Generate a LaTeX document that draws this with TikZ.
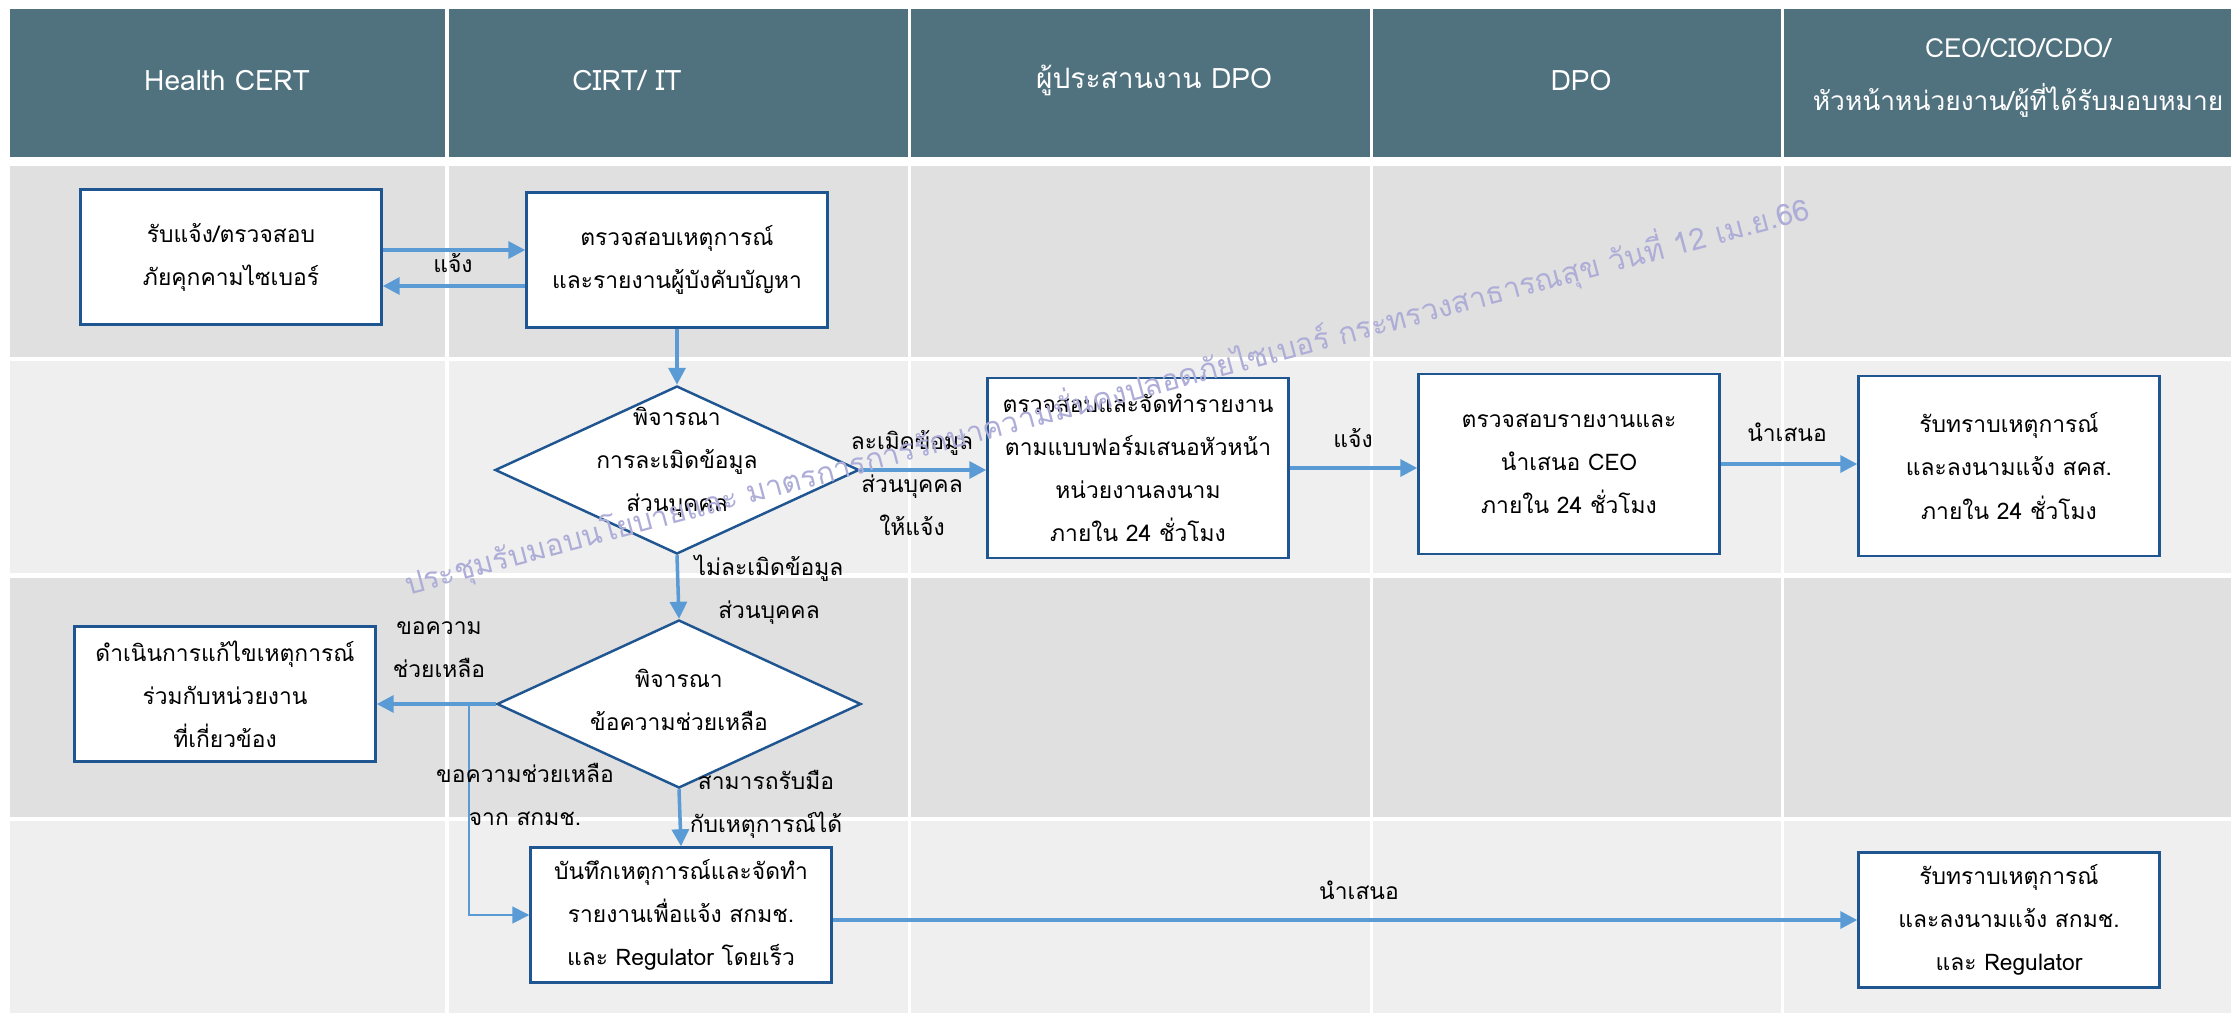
\documentclass[tikz,border=0pt]{standalone}
\usepackage{fontspec}
\setmainfont{Loma}[Script=Thai]
\usetikzlibrary{arrows.meta,shapes.geometric,calc}
\definecolor{headfill}{HTML}{50717E}
\definecolor{rowdark}{HTML}{E0E0E0}
\definecolor{rowlight}{HTML}{EFEFEF}
\definecolor{boxblue}{HTML}{1F5591}
\definecolor{flowblue}{HTML}{5B9BD5}
\definecolor{wmcolor}{HTML}{ADADD8}
\newcommand{\bodyfont}{\fontsize{13pt}{24.5pt}\selectfont}
\newcommand{\headfont}{\fontsize{16pt}{30pt}\selectfont}
\newcommand{\wmfont}{\fontsize{17pt}{20pt}\selectfont}
\tikzset{
  stepbox/.style={draw=boxblue, fill=white, line width=1.4pt, minimum width=60.2mm,
    minimum height=27mm, align=center, font=\bodyfont, inner sep=0pt},
  tallbox/.style={stepbox, minimum height=36mm},
  decide/.style={diamond, draw=boxblue, fill=white, line width=1.4pt,
    minimum width=72.8mm, minimum height=33.6mm, inner sep=0pt},
  flow/.style={draw=flowblue, line width=2pt, -{Triangle[length=3.4mm,width=3.4mm]}},
  thinflow/.style={draw=flowblue, line width=1pt, -{Triangle[length=3.4mm,width=3.4mm]}},
  lab/.style={font=\bodyfont, align=center, inner sep=0pt},
  headtxt/.style={text=white, font=\headfont, align=center, inner sep=0pt},
  wmark/.style={text=wmcolor, font=\wmfont, inner sep=0pt},
}
\begin{document}
\begin{tikzpicture}[x=0.2mm, y=-0.2mm]
  \clip (0,0) rectangle (2231,1013);
  \fill[white] (0,0) rectangle (2231,1013);
  % swimlane table
  \foreach \xa/\xb in {10/445, 449/908, 911/1370, 1373/1781, 1784/2240} {
    \fill[headfill] (\xa,9) rectangle (\xb,157);
    \fill[rowdark] (\xa,166) rectangle (\xb,357);
    \fill[rowlight] (\xa,361) rectangle (\xb,573);
    \fill[rowdark] (\xa,578) rectangle (\xb,817);
    \fill[rowlight] (\xa,821) rectangle (\xb,1020);
  }
  \node[headtxt] (h1) at (227,80) {Health CERT};
  \node[headtxt] (h2) at (627,80) {CIRT/ IT};
  \node[headtxt] (h3) at (1154,80) {ผู้ประสานงาน DPO};
  \node[headtxt] (h4) at (1581,80) {DPO};
  \node[headtxt, font=\fontsize{15pt}{30pt}\selectfont] (h5) at (2018,78) {CEO/CIO/CDO/\\หัวหน้าหน่วยงาน/ผู้ที่ได้รับมอบหมาย};

  % steps
  \node[stepbox] (A) at (231,257) {รับแจ้ง/ตรวจสอบ\\ภัยคุกคามไซเบอร์};
  \node[stepbox] (B) at (677,260) {ตรวจสอบเหตุการณ์\\และรายงานผู้บังคับบัญหา};
  \node[decide] (d1) at (677,470) {};
  \node[lab] (d1t) at (677,462) {พิจารณา\\การละเมิดข้อมูล\\ส่วนบุคคล};
  \node[tallbox] (C) at (1138,468) {ตรวจสอบและจัดทำรายงาน\\ตามแบบฟอร์มเสนอหัวหน้า\\หน่วยงานลงนาม\\ภายใน 24 ชั่วโมง};
  \node[tallbox] (D) at (1569,464) {ตรวจสอบรายงานและ\\นำเสนอ CEO\\ภายใน 24 ชั่วโมง};
  \node[tallbox] (E) at (2009,466) {รับทราบเหตุการณ์\\และลงนามแจ้ง สคส.\\ภายใน 24 ชั่วโมง};
  \node[decide] (d2) at (679,704) {};
  \node[lab] (d2t) at (679,700) {พิจารณา\\ข้อความช่วยเหลือ};
  \node[stepbox] (F) at (225,694) {ดำเนินการแก้ไขเหตุการณ์\\ร่วมกับหน่วยงาน\\ที่เกี่ยวข้อง};
  \node[stepbox] (G) at (681,915) {บันทึกเหตุการณ์และจัดทำ\\รายงานเพื่อแจ้ง สกมช.\\และ Regulator โดยเร็ว};
  \node[stepbox] (H) at (2009,920) {รับทราบเหตุการณ์\\และลงนามแจ้ง สกมช.\\และ Regulator};

  % connectors
  \draw[flow] (A.east |- 0,250) -- (B.west |- 0,250);
  \draw[flow] (B.west |- 0,286) -- (A.east |- 0,286);
  \draw[flow] (B.south) -- (d1.north);
  \draw[flow] (d1.east) -- (d1.east -| C.west);
  \draw[flow] (C.east) -- (C.east -| D.west);
  \draw[flow] (D.east) -- (D.east -| E.west);
  \draw[flow] (d1.south) -- (d2.north);
  \draw[flow] (d2.west) -- (d2.west -| F.east);
  \draw[thinflow] (d2.west -| 469,0) |- (G.west);
  \draw[flow] (d2.south) -- (G.north);
  \draw[flow] (G.east |- H.west) -- (H.west);

  % connector labels
  \node[lab] (l1) at (453,263) {แจ้ง};
  \node[lab] (l2) at (912,483) {ละเมิดข้อมูล\\ส่วนบุคคล\\ให้แจ้ง};
  \node[lab] (l3) at (1353,438) {แจ้ง};
  \node[lab] (l4) at (1787,432) {นำเสนอ};
  \node[lab] (l5) at (769,590) {ไม่ละเมิดข้อมูล\\ส่วนบุคคล};
  \node[lab] (l6) at (439,650) {ขอความ\\ช่วยเหลือ};
  \node[lab] (l7) at (525,794) {ขอความช่วยเหลือ\\จาก สกมช.};
  \node[lab] (l8) at (766,804) {สามารถรับมือ\\กับเหตุการณ์ได้};
  \node[lab] (l9) at (1359,890) {นำเสนอ};

  % watermark
  \node[wmark, rotate=15] (wm) at (1107,396) {ประชุมรับมอบนโยบายและ มาตรการการรักษาความมั่นคงปลอดภัยไซเบอร์ กระทรวงสาธารณสุข วันที่ 12 เม.ย.66};
\end{tikzpicture}
\end{document}
